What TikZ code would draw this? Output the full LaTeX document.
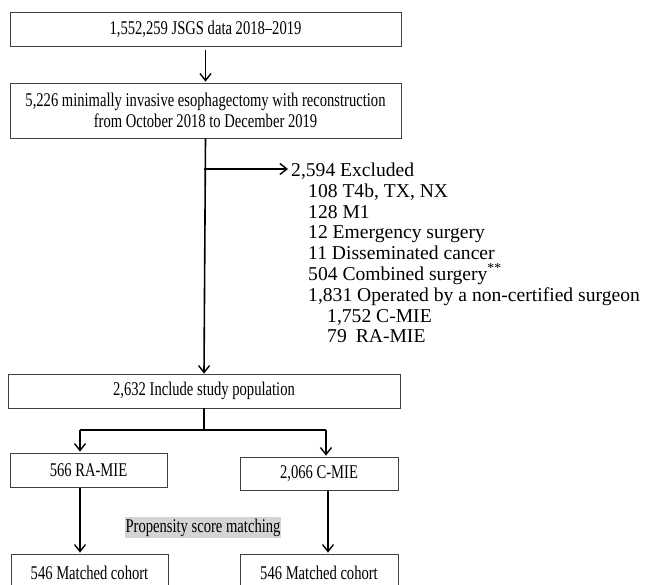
\documentclass[tikz,border=0pt]{standalone}
\usepackage{fontspec}
\usepackage{graphicx}
\setmainfont{Liberation Serif}
\usetikzlibrary{arrows.meta}
\newcommand\tl[1]{\scalebox{1}[1.33]{#1}}
\begin{document}
\begin{tikzpicture}[x=1pt,y=-1pt,
  box/.style={draw=black!75,line width=0.7pt,inner sep=0pt,align=center,font=\fontsize{14.6}{21}\selectfont},
  flow/.style={line width=1.6pt,-{Straight Barb[length=7pt,width=11pt,line width=1.4pt]}},
  plain/.style={line width=1.6pt},
  txt/.style={anchor=west,inner sep=0pt,font=\fontsize{19.6}{21}\selectfont,text height=13pt,text depth=4pt}]
\useasboundingbox (0,0) rectangle (645,585);
\node[box,minimum width=391pt,minimum height=34pt] (b1) at (205.5,29) {\tl{1,552,259 JSGS data 2018–2019}};
\node[box,minimum width=391pt,minimum height=55pt] (b2) at (205.5,110.5) {\tl{5,226 minimally invasive esophagectomy with reconstruction}\\\tl{from October 2018 to December 2019}};
\node[box,minimum width=392pt,minimum height=34pt] (b3) at (204,391) {\tl{2,632 Include study population}};
\node[box,minimum width=157pt,minimum height=34pt] (ra) at (88.5,470) {\tl{566 RA-MIE}};
\node[box,minimum width=158pt,minimum height=33pt] (cm) at (319,473.5) {\tl{2,066 C-MIE}};
\node[box,minimum width=157pt,minimum height=38pt] (ram) at (89.5,573) {\tl{546 Matched cohort}};
\node[box,minimum width=158pt,minimum height=38pt] (cmm) at (319,573) {\tl{546 Matched cohort}};
\node[fill=black!17,inner xsep=1pt,inner ysep=0pt,minimum height=21pt,font=\fontsize{14.6}{17}\selectfont] (psm) at (203,527.5) {\tl{Propensity score matching}};
% exclusion list
\node[txt] (ex) at (291,172) {2,594 Excluded};
\node[txt] (e1) at (308,192.8) {108 T4b, TX, NX};
\node[txt] (e2) at (308,213.6) {128 M1};
\node[txt] (e3) at (308,234.4) {12 Emergency surgery};
\node[txt] (e4) at (308,255.2) {11 Disseminated cancer};
\node[txt] (e5) at (308,276) {504 Combined surgery\textsuperscript{**}};
\node[txt] (e6) at (308,296.8) {1,831 Operated by a non-certified surgeon};
\node[txt] (e7) at (327,317.6) {1,752 C-MIE};
\node[txt] (e8) at (327,338.4) {79\hspace{9pt}RA-MIE};
% connectors
\draw[flow,shorten <=4pt,shorten >=1pt] (b1.south) -- (b2.north);
\draw[flow] (b2.south) -- (b3.north);
\coordinate (side) at (204,169);
\draw[flow,shorten >=3pt] (side) -- (ex.west |- side);
\coordinate (split) at (204,430);
\coordinate (lt) at (80,430);
\coordinate (rt) at (326,430);
\draw[plain] (b3.south) -- (split);
\draw[plain] (lt) -- (rt);
\draw[flow,shorten >=1pt] (lt) -- (lt |- ra.north);
\draw[flow,shorten >=1pt] (rt) -- (rt |- cm.north);
\coordinate (rl) at (80,488);
\coordinate (cl) at (328,491);
\draw[flow,shorten >=1pt] (rl) -- (rl |- ram.north);
\draw[flow,shorten >=1pt] (cl) -- (cl |- cmm.north);
\end{tikzpicture}
\end{document}
